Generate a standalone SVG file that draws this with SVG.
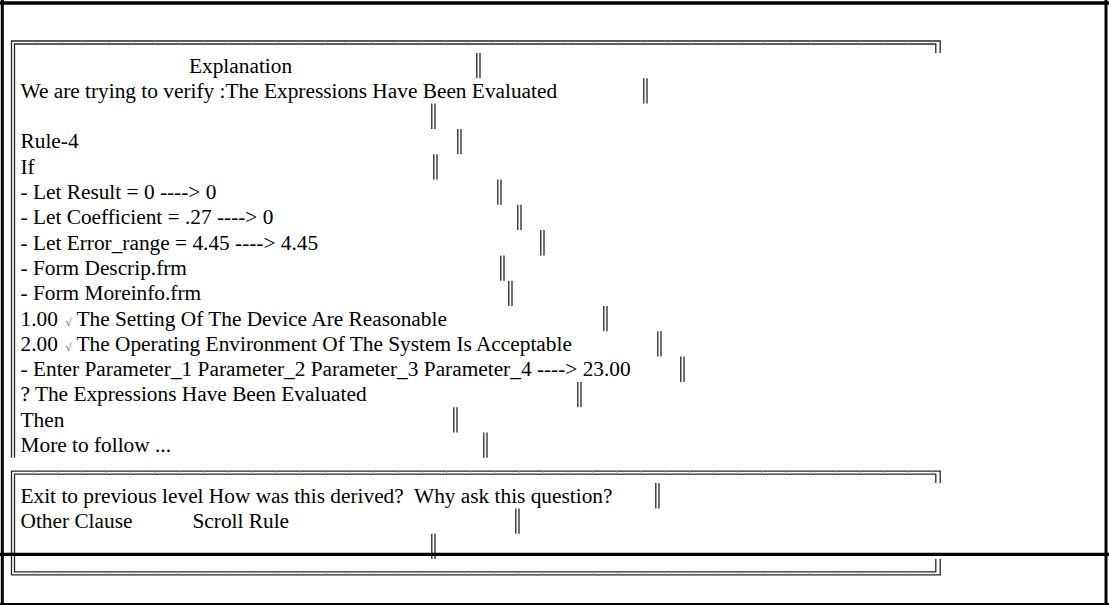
<svg xmlns="http://www.w3.org/2000/svg" width="1109" height="605" viewBox="0 0 1109 605">
  <style>
    .t { font-family: "Liberation Serif", "Times New Roman", serif; font-size: 21.33px; fill: #000; }
    .chk { font-family: "Liberation Serif", "DejaVu Serif", serif; font-size: 11px; fill: #444; }
    .frame { stroke: #000; fill: none; }
    .dbl { stroke: #262626; stroke-width: 1.3; fill: none; }
    .seam { stroke: #b8b8b8; stroke-width: 2; stroke-dasharray: 1 23.3; fill: none; }
  </style>
  <defs>
    <!-- one text row tall "║" cell -->
    <symbol id="dbar" overflow="visible">
      <path d="M0.8,0V25.3M4,0V25.3" stroke="#262626" stroke-width="1.3" fill="none"/>
    </symbol>
  </defs>

  <rect width="1109" height="605" fill="#fff"/>

  <!-- window frame -->
  <g id="frame">
    <line class="frame" x1="0" y1="2.9" x2="1109" y2="2.9" stroke-width="3.5"/>
    <line class="frame" x1="2.3" y1="0" x2="2.3" y2="605" stroke-width="3"/>
    <line class="frame" x1="1106" y1="0" x2="1106" y2="605" stroke-width="3"/>
    <line class="frame" x1="0" y1="604" x2="1109" y2="604" stroke-width="2"/>
  </g>

  <!-- explanation panel -->
  <g id="explanation-panel">
    <path class="dbl" d="M11.5,457.8V41H940.2V53"/>
    <path class="dbl" d="M14.5,457.8V44H935.8V53"/>
    <line class="seam" x1="32.9" y1="42.5" x2="935" y2="42.5"/>

    <use href="#dbar" x="476" y="53"/>
    <use href="#dbar" x="643" y="78.3"/>
    <use href="#dbar" x="431" y="103.6"/>
    <use href="#dbar" x="457" y="128.9"/>
    <use href="#dbar" x="433" y="154.2"/>
    <use href="#dbar" x="497" y="179.5"/>
    <use href="#dbar" x="517" y="204.8"/>
    <use href="#dbar" x="540" y="230.1"/>
    <use href="#dbar" x="500" y="255.4"/>
    <use href="#dbar" x="508" y="280.7"/>
    <use href="#dbar" x="603" y="306"/>
    <use href="#dbar" x="657" y="331.3"/>
    <use href="#dbar" x="680" y="356.6"/>
    <use href="#dbar" x="577" y="381.9"/>
    <use href="#dbar" x="453" y="407.2"/>
    <use href="#dbar" x="483" y="432.5"/>

    <text class="t" x="189" y="72.5">Explanation</text>
    <text class="t" x="20.5" y="97.8">We are trying to verify :The Expressions Have Been Evaluated</text>
    <text class="t" x="20.5" y="148.4">Rule-4</text>
    <text class="t" x="20.5" y="173.7">If</text>
    <text class="t" x="20.5" y="199">- Let Result = 0 ----&gt; 0</text>
    <text class="t" x="20.5" y="224.3">- Let Coefficient = .27 ----&gt; 0</text>
    <text class="t" x="20.5" y="249.6">- Let Error_range = 4.45 ----&gt; 4.45</text>
    <text class="t" x="20.5" y="274.9">- Form Descrip.frm</text>
    <text class="t" x="20.5" y="300.2">- Form Moreinfo.frm</text>
    <text class="t" x="20.5" y="325.5">1.00 <tspan class="chk" x="65.5">√</tspan><tspan x="76.5">The Setting Of The Device Are Reasonable</tspan></text>
    <text class="t" x="20.5" y="350.8">2.00 <tspan class="chk" x="65.5">√</tspan><tspan x="76.5">The Operating Environment Of The System Is Acceptable</tspan></text>
    <text class="t" x="20.5" y="376.1">- Enter Parameter_1 Parameter_2 Parameter_3 Parameter_4 ----&gt; 23.00</text>
    <text class="t" x="20.5" y="401.4">? The Expressions Have Been Evaluated</text>
    <text class="t" x="20.5" y="426.7">Then</text>
    <text class="t" x="20.5" y="452">More to follow ...</text>
  </g>

  <!-- command panel -->
  <g id="command-panel">
    <path class="dbl" d="M940.2,483.1V471.1H11.5V574.8H940.2V559"/>
    <path class="dbl" d="M935.8,483.1V474.1H14.5V571.8H935.8V559"/>
    <line class="seam" x1="32.9" y1="472.6" x2="935" y2="472.6"/>
    <line class="seam" x1="32.9" y1="573.3" x2="935" y2="573.3"/>

    <use href="#dbar" x="655" y="483.1"/>
    <use href="#dbar" x="515" y="508.4"/>
    <use href="#dbar" x="431" y="533.7"/>

    <text class="t" x="20.5" y="502.6">Exit to previous level How was this derived?<tspan x="414">Why ask this question?</tspan></text>
    <text class="t" x="20.5" y="527.9">Other Clause<tspan x="192.5">Scroll Rule</tspan></text>
  </g>

  <!-- divider across the window -->
  <line class="frame" x1="0" y1="554.3" x2="1109" y2="554.3" stroke-width="3.3"/>
</svg>
